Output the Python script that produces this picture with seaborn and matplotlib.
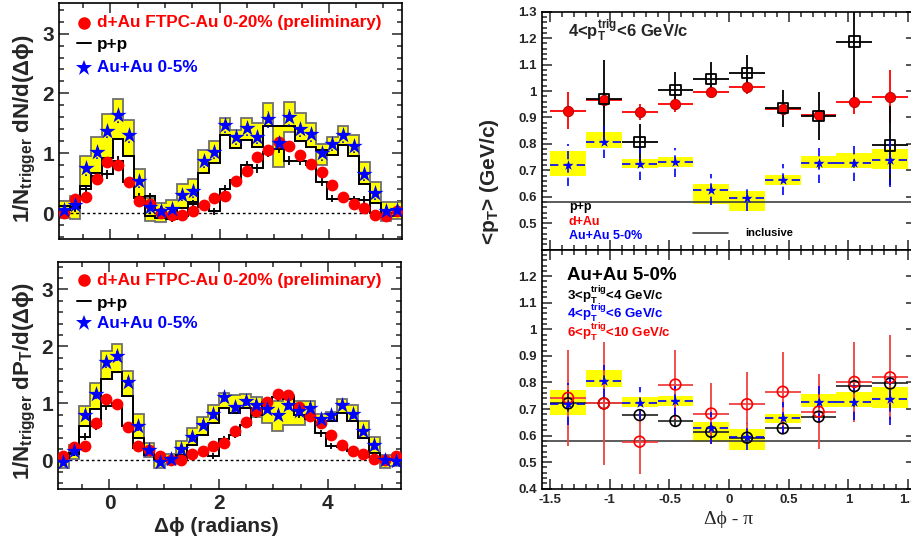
import numpy as np
import matplotlib
matplotlib.use("Agg")
import matplotlib.pyplot as plt
import seaborn as sns
from matplotlib.ticker import MultipleLocator

# ---------------- left panels: 32 bins in dphi, -0.3pi .. 1.7pi
dphi_edges = np.linspace(-0.3 * np.pi, 1.7 * np.pi, 33)
dphi = 0.5 * (dphi_edges[:-1] + dphi_edges[1:])

# 1/N dN/d(dphi)
dn_dau = [0.01, 0.23, 0.27, 0.58, 0.86, 0.80, 0.52, 0.21, 0.15, 0.01, -0.03, -0.03, 0.04, 0.13, 0.25, 0.28,
          0.53, 0.70, 0.94, 1.05, 1.19, 1.12, 0.98, 0.83, 0.69, 0.47, 0.27, 0.16, 0.09, -0.03, -0.04, 0.03]
dn_pp = [0.06, 0.08, 0.40, 0.62, 0.65, 0.87, 0.52, 0.27, 0.28, 0.06, -0.09, -0.05, 0.16, 0.10, 0.03, 0.40,
         0.55, 0.80, 0.75, 1.02, 1.08, 0.88, 0.88, 0.81, 0.52, 0.24, 0.23, 0.23, 0.22, 0.00, -0.02, 0.00]
dn_pp_err = [0.06, 0.06, 0.07, 0.07, 0.07, 0.08, 0.07, 0.06, 0.06, 0.06, 0.06, 0.06, 0.06, 0.06, 0.06, 0.07,
             0.07, 0.07, 0.07, 0.08, 0.08, 0.07, 0.07, 0.07, 0.07, 0.06, 0.06, 0.06, 0.06, 0.06, 0.06, 0.06]
dn_auau = [0.06, 0.13, 0.75, 1.03, 1.38, 1.64, 1.31, 0.53, 0.10, 0.03, 0.07, 0.31, 0.37, 0.88, 1.02, 1.47,
           1.27, 1.42, 1.28, 1.57, 1.17, 1.60, 1.40, 1.32, 1.00, 1.16, 1.30, 1.13, 0.65, 0.33, 0.03, 0.06]
dn_auau_err = [0.10, 0.10, 0.12, 0.12, 0.13, 0.14, 0.13, 0.11, 0.10, 0.10, 0.10, 0.11, 0.11, 0.12, 0.12, 0.13,
               0.13, 0.13, 0.13, 0.14, 0.13, 0.14, 0.13, 0.13, 0.12, 0.12, 0.13, 0.12, 0.11, 0.11, 0.10, 0.10]
dn_band_hi = [0.20, 0.28, 0.96, 1.28, 1.65, 1.91, 1.56, 0.74, 0.26, 0.17, 0.22, 0.48, 0.57, 1.06, 1.20, 1.59,
              1.39, 1.59, 1.50, 1.84, 1.45, 1.86, 1.67, 1.51, 1.16, 1.28, 1.45, 1.31, 0.85, 0.52, 0.18, 0.18]
dn_band_lo = [-0.08, -0.09, 0.46, 0.67, 0.92, 1.24, 0.95, 0.26, -0.13, -0.15, -0.08, 0.09, 0.18, 0.68, 0.84, 1.31,
              1.09, 1.23, 1.11, 1.45, 0.77, 1.36, 1.20, 1.11, 0.81, 0.98, 1.14, 0.95, 0.49, 0.17, -0.13, -0.10]
dn_auau_line = [0.12, 0.10, 0.46, 0.67, 0.92, 1.24, 0.95, 0.26, -0.05, -0.08, -0.06, 0.09, 0.18, 0.68, 0.84, 1.31,
                1.09, 1.23, 1.11, 1.45, 1.45, 1.45, 1.20, 1.11, 1.05, 0.98, 1.14, 0.95, 0.49, 0.17, -0.05, -0.05]

# 1/N dPT/d(dphi)
dpt_dau = [0.08, 0.24, 0.26, 0.65, 1.08, 0.99, 0.59, 0.26, 0.19, 0.08, 0.01, 0.01, 0.11, 0.16, 0.25, 0.31,
           0.51, 0.67, 0.87, 1.03, 1.16, 1.15, 0.94, 0.78, 0.65, 0.45, 0.28, 0.16, 0.12, 0.02, 0.01, 0.08]
dpt_pp = [0.05, 0.13, 0.42, 0.60, 0.95, 1.01, 0.60, 0.22, 0.16, 0.08, 0.02, 0.03, 0.10, 0.13, 0.08, 0.37,
          0.45, 0.63, 0.80, 1.02, 1.12, 1.08, 0.80, 0.73, 0.48, 0.25, 0.23, 0.16, 0.13, 0.06, 0.03, 0.03]
dpt_pp_err = [0.05, 0.05, 0.06, 0.06, 0.07, 0.07, 0.06, 0.05, 0.05, 0.05, 0.05, 0.05, 0.05, 0.05, 0.05, 0.06,
              0.06, 0.06, 0.06, 0.07, 0.07, 0.07, 0.06, 0.06, 0.06, 0.05, 0.05, 0.05, 0.05, 0.05, 0.05, 0.05]
dpt_auau = [-0.02, 0.16, 0.80, 1.16, 1.72, 1.83, 1.38, 0.60, 0.19, -0.02, 0.02, 0.20, 0.41, 0.63, 0.81, 1.11,
            0.93, 1.04, 0.98, 0.91, 0.80, 0.97, 0.87, 0.92, 0.72, 0.79, 0.98, 0.81, 0.52, 0.27, 0.00, -0.01]
dpt_auau_err = [0.08, 0.08, 0.08, 0.08, 0.09, 0.09, 0.08, 0.08, 0.08, 0.08, 0.08, 0.08, 0.08, 0.08, 0.08, 0.08,
                0.08, 0.08, 0.08, 0.08, 0.08, 0.08, 0.08, 0.08, 0.08, 0.08, 0.08, 0.08, 0.08, 0.08, 0.08, 0.08]
dpt_band_hi = [0.10, 0.27, 0.95, 1.36, 1.92, 2.04, 1.57, 0.81, 0.30, 0.10, 0.12, 0.34, 0.57, 0.77, 0.97, 1.18,
               1.15, 1.16, 1.12, 1.06, 1.05, 1.14, 1.05, 1.04, 0.81, 0.85, 1.08, 0.98, 0.70, 0.41, 0.10, 0.09]
dpt_band_lo = [-0.13, 0.02, 0.60, 0.91, 1.43, 1.55, 1.13, 0.40, 0.06, -0.13, -0.07, 0.08, 0.28, 0.45, 0.66, 0.92,
               0.83, 0.92, 0.77, 0.65, 0.51, 0.63, 0.63, 0.72, 0.63, 0.69, 0.83, 0.69, 0.40, 0.13, -0.13, -0.10]
dpt_auau_line = [0.05, 0.12, 0.60, 0.91, 1.43, 1.55, 1.13, 0.40, 0.10, 0.03, 0.00, 0.10, 0.28, 0.45, 0.66, 0.92,
                 0.83, 0.92, 0.80, 1.00, 1.12, 1.12, 0.80, 0.75, 0.65, 0.69, 0.83, 0.69, 0.40, 0.13, 0.00, 0.00]

# ---------------- right panels: <pT> vs dphi - pi
r_x = [-1.35, -1.05, -0.75, -0.45, -0.15, 0.15, 0.45, 0.75, 1.05, 1.35]
pt_dau = [0.925, 0.967, 0.919, 0.949, 0.998, 1.014, 0.931, 0.908, 0.958, 0.979]
pt_dau_err = [0.07, 0.03, 0.03, 0.03, 0.02, 0.025, 0.012, 0.012, 0.045, 0.10]
pt_pp = [np.nan, 0.969, 0.806, 1.003, 1.045, 1.067, 0.935, 0.906, 1.187, 0.794]
pt_pp_err = [np.nan, 0.15, 0.07, 0.07, 0.065, 0.07, 0.07, 0.09, 0.22, 0.15]
pt_aa = [0.719, 0.807, 0.724, 0.730, 0.627, 0.596, 0.665, 0.728, 0.728, 0.738]
pt_aa_err = [0.08, 0.06, 0.06, 0.055, 0.06, 0.05, 0.06, 0.075, 0.07, 0.10]
pt_aa_hi = [0.772, 0.845, 0.744, 0.749, 0.650, 0.623, 0.681, 0.755, 0.765, 0.782]
pt_aa_lo = [0.677, 0.784, 0.709, 0.713, 0.574, 0.545, 0.646, 0.709, 0.709, 0.705]
pt_inclusive = 0.579

pt_34 = [0.721, 0.721, 0.677, 0.655, 0.614, 0.592, 0.627, 0.671, 0.786, 0.796]
pt_34_err = [0.02, 0.02, 0.02, 0.02, 0.02, 0.02, 0.02, 0.02, 0.02, 0.02]
pt_610 = [0.742, 0.721, 0.577, 0.792, 0.683, 0.718, 0.765, 0.690, 0.802, 0.819]
pt_610_err = [0.18, 0.23, 0.12, 0.13, 0.115, 0.12, 0.15, 0.14, 0.15, 0.16]

W, H = 912, 544
YELLOW = "#ffff00"
RED = "#ff0000"
BLUE = "#0000ff"

sns.set_style("ticks")
plt.rcParams["font.family"] = ["Liberation Sans", "DejaVu Sans"]
plt.rcParams["font.weight"] = "bold"
plt.rcParams["mathtext.fontset"] = "custom"
plt.rcParams["mathtext.rm"] = "Liberation Sans:bold"
plt.rcParams["mathtext.it"] = "Liberation Sans:bold"
plt.rcParams["mathtext.bf"] = "Liberation Sans:bold"
plt.rcParams["mathtext.default"] = "bf"

fig = plt.figure(figsize=(W / 100, H / 100), dpi=100)


def box(x0, y0, x1, y1):
    return [x0 / W, 1 - y1 / H, (x1 - x0) / W, (y1 - y0) / H]


def ax_xy(ax, x, y):
    b = ax.get_position()
    return (x / W - b.x0) / b.width, ((1 - y / H) - b.y0) / b.height


ax_tl = fig.add_axes(box(59, 3, 402, 239))
ax_bl = fig.add_axes(box(58, 262, 401, 489))
ax_tr = fig.add_axes(box(541.7, 11.7, 916.5, 249.6))
ax_br = fig.add_axes(box(541.7, 249.6, 916.5, 488.7))


def style_axes(ax, lab_size, maj, minr):
    ax.tick_params(which="both", direction="in", top=True, right=True, width=1.1)
    ax.tick_params(which="major", length=maj, labelsize=lab_size)
    ax.tick_params(which="minor", length=minr)
    for s in ax.spines.values():
        s.set_linewidth(1.2)
        s.set_color("black")


def left_panel(ax, dau, pp, pp_err, aa, aa_err, hi, lo, aa_line, ylim):
    ax.stairs(hi, dphi_edges, baseline=lo, fill=True, color=YELLOW, zorder=1)
    ax.stairs(hi, dphi_edges, baseline=None, color="#707070", lw=1.3, zorder=1.5)
    ax.stairs(lo, dphi_edges, baseline=None, color="#707070", lw=1.3, zorder=1.5)
    ax.stairs(aa_line, dphi_edges, baseline=None, color="black", lw=1.4, zorder=2)
    ax.stairs(pp, dphi_edges, baseline=None, color="black", lw=1.4, zorder=2.5)
    ax.errorbar(dphi, pp, yerr=pp_err, xerr=0.05, fmt="none", ecolor="black", elinewidth=1.3, zorder=3)
    ax.axhline(0, color="black", lw=1, ls=(0, (2, 2)), zorder=1.2)
    ax.vlines(dphi, np.array(aa) - np.array(aa_err), np.array(aa) + np.array(aa_err),
              colors=BLUE, linestyles=(0, (1, 4)), lw=1.2, zorder=2.8)
    sns.scatterplot(x=dphi, y=dau, ax=ax, color=RED, marker="o", s=72, edgecolor=RED, linewidth=0, zorder=4)
    sns.scatterplot(x=dphi, y=aa, ax=ax, color=BLUE, marker="*", s=150, edgecolor=BLUE, linewidth=0, zorder=5)
    ax.set_xlim(dphi_edges[0], dphi_edges[-1])
    ax.set_ylim(*ylim)
    ax.xaxis.set_major_locator(MultipleLocator(2))
    ax.xaxis.set_minor_locator(MultipleLocator(0.5))
    ax.yaxis.set_major_locator(MultipleLocator(1))
    ax.yaxis.set_minor_locator(MultipleLocator(0.2))
    ax.set_xlabel("")
    ax.set_ylabel("")
    style_axes(ax, 15, 7, 3.5)
    for t in ax.get_xticklabels() + ax.get_yticklabels():
        t.set_fontweight("bold")


def left_legend(ax, y_red, y_pp, y_star):
    kw = dict(transform=ax.transAxes, va="center", ha="left", fontsize=12.3, fontweight="bold")
    x, y = ax_xy(ax, 84, y_red)
    ax.plot([x], [y], "o", color=RED, ms=9, mew=0, transform=ax.transAxes, clip_on=False)
    ax.text(*ax_xy(ax, 97, y_red), "d+Au FTPC-Au 0-20% (preliminary)", color=RED, **kw)
    x0, y0 = ax_xy(ax, 77, y_pp)
    x1, _ = ax_xy(ax, 91, y_pp)
    ax.plot([x0, x1], [y0, y0], color="black", lw=1.4, transform=ax.transAxes)
    ax.text(*ax_xy(ax, 97, y_pp + 2), "p+p", color="black", **kw)
    x, y = ax_xy(ax, 84, y_star)
    ax.plot([x], [y], "*", color=BLUE, ms=12, mew=0, transform=ax.transAxes, clip_on=False)
    ax.text(*ax_xy(ax, 97, y_star), "Au+Au 0-5%", color=BLUE, **kw)


left_panel(ax_tl, dn_dau, dn_pp, dn_pp_err, dn_auau, dn_auau_err, dn_band_hi, dn_band_lo, dn_auau_line,
           (-0.43, 3.51))
left_panel(ax_bl, dpt_dau, dpt_pp, dpt_pp_err, dpt_auau, dpt_auau_err, dpt_band_hi, dpt_band_lo,
           dpt_auau_line, (-0.5, 3.48))
ax_tl.tick_params(labelbottom=False)
left_legend(ax_tl, 23, 43, 68)
left_legend(ax_bl, 280, 301, 323)

fig.text(25 / W, 1 - 129 / H, "1/N$_{trigger}$ dN/d(Δϕ)", rotation=90, ha="center", va="center",
         fontsize=16, fontweight="bold")
fig.text(25 / W, 1 - 381 / H, "1/N$_{trigger}$ dP$_{T}$/d(Δϕ)", rotation=90, ha="center", va="center",
         fontsize=16, fontweight="bold")
fig.text(216 / W, 1 - 527 / H, "Δϕ (radians)", ha="center", va="center", fontsize=15, fontweight="bold")


def right_axes(ax, yticks):
    ax.set_xlim(-np.pi / 2, np.pi / 2)
    ax.set_ylim(0.4, 1.3)
    ax.set_yticks(yticks)
    ax.xaxis.set_major_locator(MultipleLocator(0.5))
    ax.xaxis.set_minor_locator(MultipleLocator(0.1))
    ax.yaxis.set_minor_locator(MultipleLocator(0.02))
    ax.set_xlabel("")
    ax.set_ylabel("")
    style_axes(ax, 9.5, 7, 3.5)
    ax.yaxis.set_major_formatter(matplotlib.ticker.FuncFormatter(lambda v, p: f"{v:g}"))
    ax.xaxis.set_major_formatter(matplotlib.ticker.FuncFormatter(lambda v, p: f"{v:g}"))


def aa_boxes(ax):
    ax.bar(r_x, np.array(pt_aa_hi) - np.array(pt_aa_lo), bottom=pt_aa_lo, width=0.3,
           color=YELLOW, linewidth=0, zorder=1)
    ax.axhline(pt_inclusive, color="#404040", lw=1.2, zorder=1.5)
    eb = ax.errorbar(r_x, pt_aa, yerr=pt_aa_err, xerr=0.15, fmt="none", ecolor=BLUE, elinewidth=1.2, zorder=3)
    for lc in eb[2]:
        lc.set_linestyle((0, (5, 3)))
    sns.scatterplot(x=r_x, y=pt_aa, ax=ax, color=BLUE, marker="*", s=60, edgecolor=BLUE, linewidth=0, zorder=6)


# top right
aa_boxes(ax_tr)
ax_tr.errorbar(r_x, pt_dau, yerr=pt_dau_err, xerr=0.15, fmt="none", ecolor=RED, elinewidth=1.3, zorder=2)
sns.scatterplot(x=r_x, y=pt_dau, ax=ax_tr, color=RED, marker="o", s=55, edgecolor="#aa0000", linewidth=0.6,
                zorder=4)
ax_tr.errorbar(r_x, pt_pp, yerr=pt_pp_err, xerr=0.15, fmt="none", ecolor="black", elinewidth=1.3, zorder=2.5)
sns.scatterplot(x=r_x, y=pt_pp, ax=ax_tr, marker="s", s=55, facecolor="none", edgecolor="black",
                linewidth=1.3, zorder=5)
right_axes(ax_tr, [0.5, 0.6, 0.7, 0.8, 0.9, 1.0, 1.1, 1.2, 1.3])
ax_tr.tick_params(labelbottom=False)
for t in ax_tr.get_yticklabels():
    t.set_fontweight("bold")

tkw = dict(transform=ax_tr.transAxes, ha="left", va="center", fontweight="bold")
ax_tr.text(*ax_xy(ax_tr, 568, 31), "4<p$_{T}^{trig}$<6 GeV/c", fontsize=12, **tkw)
ax_tr.text(*ax_xy(ax_tr, 569, 207), "p+p", color="black", fontsize=9, **tkw)
ax_tr.text(*ax_xy(ax_tr, 569, 222), "d+Au", color=RED, fontsize=9, **tkw)
ax_tr.text(*ax_xy(ax_tr, 569, 236), "Au+Au 5-0%", color=BLUE, fontsize=9, **tkw)
x0, y0 = ax_xy(ax_tr, 693, 233)
x1, _ = ax_xy(ax_tr, 728, 233)
ax_tr.plot([x0, x1], [y0, y0], color="#404040", lw=1.2, transform=ax_tr.transAxes)
ax_tr.text(*ax_xy(ax_tr, 745, 233), "inclusive", color="black", fontsize=8, **tkw)

# bottom right
aa_boxes(ax_br)
ax_br.errorbar(r_x, pt_34, yerr=pt_34_err, xerr=0.15, fmt="none", ecolor="#303030", elinewidth=1.3, zorder=2)
ax_br.errorbar(r_x, pt_610, yerr=pt_610_err, xerr=0.15, fmt="none", ecolor="#f04040", elinewidth=1.3,
               zorder=2.2)
sns.scatterplot(x=r_x, y=pt_34, ax=ax_br, marker="o", s=60, facecolor="none", edgecolor="black",
                linewidth=1.2, zorder=4)
sns.scatterplot(x=r_x, y=pt_610, ax=ax_br, marker="o", s=60, facecolor="none", edgecolor=RED,
                linewidth=1.2, zorder=4.5)
right_axes(ax_br, [0.4, 0.5, 0.6, 0.7, 0.8, 0.9, 1.0, 1.1, 1.2])
for t in ax_br.get_xticklabels() + ax_br.get_yticklabels():
    t.set_fontweight("bold")

bkw = dict(transform=ax_br.transAxes, ha="left", va="center", fontweight="bold")
ax_br.text(*ax_xy(ax_br, 567, 275), "Au+Au 5-0%", color="black", fontsize=13.5, **bkw)
ax_br.text(*ax_xy(ax_br, 567, 295), "3<p$_{T}^{trig}$<4 GeV/c", color="black", fontsize=9.5, **bkw)
ax_br.text(*ax_xy(ax_br, 567, 313.5), "4<p$_{T}^{trig}$<6 GeV/c", color=BLUE, fontsize=9.5, **bkw)
ax_br.text(*ax_xy(ax_br, 567, 332), "6<p$_{T}^{trig}$<10 GeV/c", color=RED, fontsize=9.5, **bkw)

fig.text(490 / W, 1 - 182 / H, "<p$_{T}$> (GeV/c)", rotation=90, ha="center", va="center",
         fontsize=15, fontweight="bold")
fig.text(729 / W, 1 - 520 / H, "Δϕ - π", ha="center", va="center", fontsize=14,
         family=["Liberation Serif", "DejaVu Serif"], fontweight="normal")

plt.savefig("out.png", dpi=100)
